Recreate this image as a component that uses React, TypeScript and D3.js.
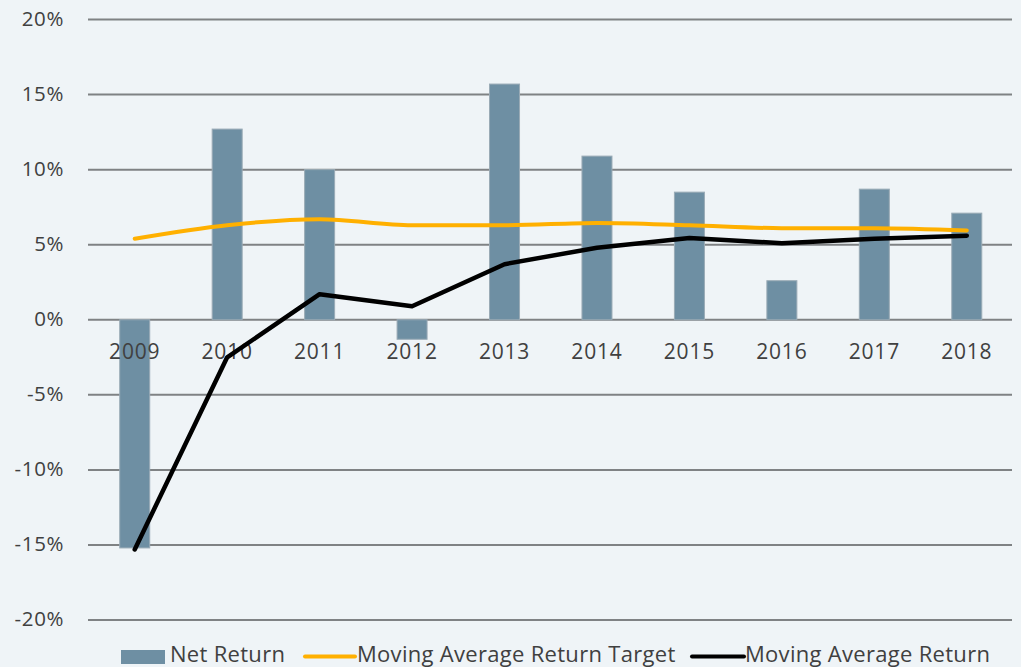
import React from "react";
import * as d3 from "d3";

const years = ["2009", "2010", "2011", "2012", "2013", "2014", "2015", "2016", "2017", "2018"];
const netReturn = [-15.2, 12.7, 10.0, -1.3, 15.7, 10.9, 8.5, 2.6, 8.7, 7.1];
const targetReturn = [5.4, 6.3, 6.7, 6.3, 6.3, 6.45, 6.3, 6.1, 6.1, 5.95];
const movingAvgReturn = [-15.3, -2.5, 1.7, 0.9, 3.7, 4.8, 5.45, 5.1, 5.4, 5.6];
const yTicks = [20, 15, 10, 5, 0, -5, -10, -15, -20];

const W = 1021;
const H = 667;
const FONT = "'Open Sans', sans-serif";

export default function App() {
  const x = d3.scaleBand<string>().domain(years).range([88.5, 1013]).paddingInner(0).paddingOuter(0);
  const y = d3.scaleLinear().domain([-20, 20]).range([620, 19.5]);
  const bw = 30;
  const cx = (d: string) => (x(d) as number) + x.bandwidth() / 2;

  const targetLine = d3
    .line<number>()
    .x((_, i) => cx(years[i]))
    .y((v) => y(v))
    .curve(d3.curveMonotoneX);
  const avgLine = d3
    .line<number>()
    .x((_, i) => cx(years[i]))
    .y((v) => y(v));

  return (
    <div style={{ position: "fixed", left: 0, top: 0 }}>
      <svg width={W} height={H} style={{ display: "block", fontFamily: FONT }}>
        <rect x={0} y={0} width={W} height={H} fill="#eff4f7" />
        {yTicks.map((t) => (
          <g key={t}>
            <line x1={88} x2={1012} y1={y(t)} y2={y(t)} stroke="#7f8284" strokeWidth={2} />
            <text x={64} y={y(t)} dy="0.3em" textAnchor="end" fontSize={20.5} letterSpacing={0.6} fill="#404040">
              {t}%
            </text>
          </g>
        ))}
        {years.map((yr, i) => {
          const v = netReturn[i];
          const y0 = y(0);
          const y1 = y(v);
          return (
            <rect
              key={yr}
              x={cx(yr) - bw / 2}
              y={Math.min(y0, y1)}
              width={bw}
              height={Math.abs(y1 - y0)}
              fill="#6e8fa3"
              stroke="#9aabb6"
              strokeWidth={1}
            />
          );
        })}
        {years.map((yr) => (
          <text key={yr} x={cx(yr)} y={359} textAnchor="middle" fontSize={21} letterSpacing={0.8} fill="#404040">
            {yr}
          </text>
        ))}
        <path d={targetLine(targetReturn) || ""} fill="none" stroke="#ffb000" strokeWidth={4} strokeLinecap="round" />
        <path d={avgLine(movingAvgReturn) || ""} fill="none" stroke="#000000" strokeWidth={4.5} strokeLinecap="round" strokeLinejoin="round" />
        {/* legend */}
        <g fontSize={22} letterSpacing={0.3} fill="#404040">
          <rect x={121} y={650} width={44} height={14} fill="#6e8fa3" />
          <text x={170} y={662}>Net Return</text>
          <line x1={305} x2={355} y1={656.5} y2={656.5} stroke="#ffb000" strokeWidth={4} strokeLinecap="round" />
          <text x={357} y={662}>Moving Average Return Target</text>
          <line x1={692} x2={744} y1={656.5} y2={656.5} stroke="#000000" strokeWidth={4} strokeLinecap="round" />
          <text x={745} y={662}>Moving Average Return</text>
        </g>
      </svg>
    </div>
  );
}
